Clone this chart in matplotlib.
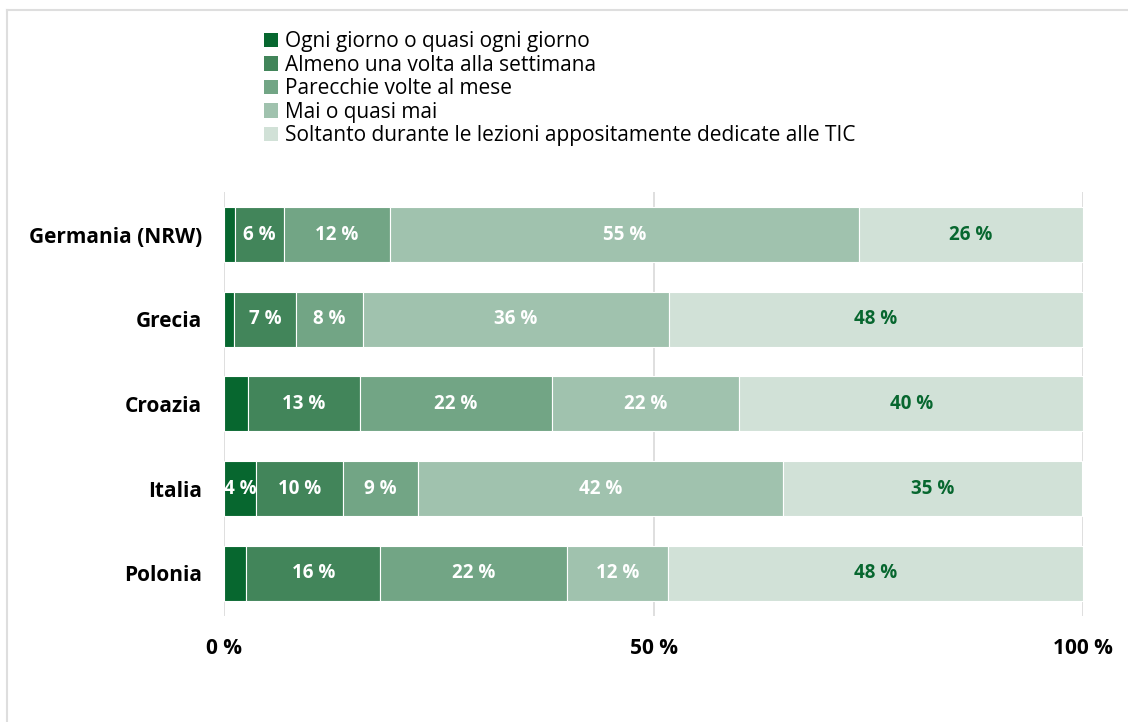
import matplotlib
matplotlib.use("Agg")
import matplotlib.pyplot as plt
from matplotlib.lines import Line2D
import numpy as np

plt.rcParams['font.family'] = ['Open Sans', 'DejaVu Sans']

countries = ['Germania (NRW)', 'Grecia', 'Croazia', 'Italia', 'Polonia']
series_names = [
    'Ogni giorno o quasi ogni giorno',
    'Almeno una volta alla settimana',
    'Parecchie volte al mese',
    'Mai o quasi mai',
    'Soltanto durante le lezioni appositamente dedicate alle TIC',
]
# percent per country, one list per answer category
ogni_giorno = [1.3, 1.2, 2.8, 3.7, 2.6]
settimana = [5.7, 7.2, 13.0, 10.2, 15.6]
parecchie = [12.3, 7.8, 22.4, 8.7, 21.7]
mai = [54.6, 35.6, 21.8, 42.5, 11.8]
soltanto_tic = [26.1, 48.2, 40.0, 34.8, 48.3]
ticks = [0, 50, 100]

colors = ['#07672f', '#42855a', '#72a585', '#a0c2ae', '#d1e1d7']
text_colors = ['white', 'white', 'white', 'white', '#07672f']

fig = plt.figure(figsize=(11.28, 7.22), dpi=100)
ax = fig.add_axes([0.1986, 0.1475, 0.7615, 0.586])

y = np.arange(len(countries))
left = np.zeros(len(countries))
for vals, name, col, tcol in zip([ogni_giorno, settimana, parecchie, mai, soltanto_tic],
                                 series_names, colors, text_colors):
    vals = np.array(vals)
    ax.barh(y, vals, left=left, height=0.65, color=col, edgecolor='white',
            linewidth=0.8, label=name, zorder=2)
    for yi, l, v in zip(y, left, vals):
        if v >= 3.5:
            ax.text(l + v / 2, yi, f'{v:.0f} %', ha='center', va='center',
                    color=tcol, fontsize=13.5, fontweight='bold', zorder=3)
    left += vals

ax.set_xlim(0, 100)
ax.set_ylim(len(countries) - 0.5, -0.5)
ax.set_yticks(y)
ax.set_yticklabels(countries, fontsize=15, fontweight='bold')
ax.set_xticks(ticks)
ax.set_xticklabels([f'{t} %' for t in ticks], fontsize=15, fontweight='bold')
ax.tick_params(length=0, pad=16, axis='y')
ax.tick_params(length=0, pad=16, axis='x')
for s in ax.spines.values():
    s.set_visible(False)
ax.xaxis.grid(True, color='#d9d9d9', linewidth=1.2, zorder=0)
ax.set_axisbelow(True)

handles, labels = ax.get_legend_handles_labels()
leg = fig.legend(handles, labels, loc='upper left', bbox_to_anchor=(0.2265, 0.968),
                 frameon=False, fontsize=15, handlelength=0.7, handleheight=0.7,
                 handletextpad=0.3, labelspacing=0.12, borderaxespad=0)
for h in leg.legend_handles:
    h.set_edgecolor('none')

# light frame on the top and left edges
fig.add_artist(Line2D([7 / 1128, 7 / 1128], [0, 1 - 10 / 722], color='#dedede',
                      linewidth=1.5, transform=fig.transFigure))
fig.add_artist(Line2D([7 / 1128, 1], [1 - 10 / 722, 1 - 10 / 722], color='#dedede',
                      linewidth=1.5, transform=fig.transFigure))

fig.savefig('out.png', dpi=100)
